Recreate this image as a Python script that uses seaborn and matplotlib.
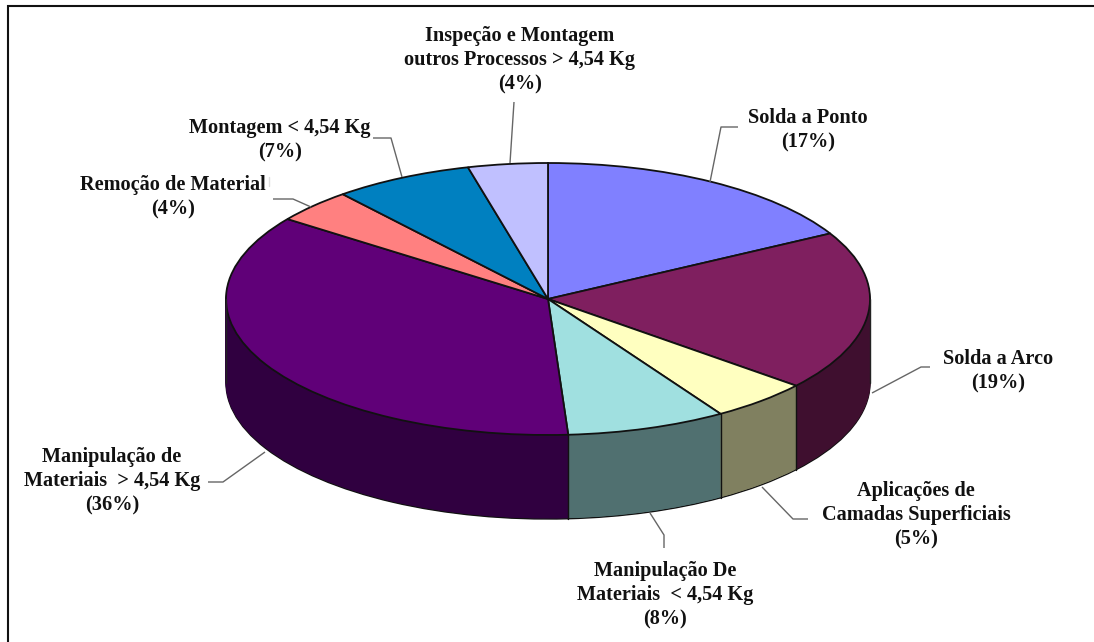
import numpy as np
import matplotlib
matplotlib.use("Agg")
import matplotlib.pyplot as plt
import seaborn as sns

categories = ["Solda a Ponto", "Solda a Arco", "Aplicações de\nCamadas Superficiais",
              "Manipulação De\nMateriais  < 4,54 Kg", "Manipulação de\nMateriais  > 4,54 Kg",
              "Remoção de Material", "Montagem < 4,54 Kg",
              "Inspeção e Montagem\noutros Processos > 4,54 Kg"]
values = [17, 19, 5, 8, 36, 4, 7, 4]
top_colors = ["#8080FF", "#7F1F5F", "#FFFFC0", "#A0E0E0", "#600078", "#FF8080", "#0080C0", "#C0C0FF"]
side_colors = ["#404080", "#3F0F2F", "#808060", "#507070", "#300040", "#804040", "#004060", "#606080"]

W, H = 1094, 642
CX, CY, RX, RY, DEPTH = 548, 299, 322, 136, 84

sns.set_theme(style="white")
plt.rcParams["font.family"] = ["Liberation Serif", "DejaVu Serif"]

fig = plt.figure(figsize=(W / 100, H / 100), dpi=100, facecolor="white")
ax = fig.add_axes([0, 0, 1, 1])


def pie(colors, drop, edge, lw):
    ax.pie(values, colors=colors, startangle=90, counterclock=False, radius=1,
           center=(0, -drop / RY), wedgeprops=dict(edgecolor=edge if edge else "none", linewidth=lw))


top = sns.color_palette(top_colors)
side = sns.color_palette(side_colors)

pie(side, DEPTH, "#111111", 1.0)
for d in np.arange(DEPTH - 1, 0, -1.0):
    ax.pie(values, colors=side, startangle=90, counterclock=False, radius=1,
           center=(0, -d / RY), wedgeprops=dict(linewidth=0.6, edgecolor=None),
           )
    for w in ax.patches[-len(values):]:
        w.set_edgecolor(w.get_facecolor())
pie(top, 0, "#111111", 1.3)

ax.set_xlim(-CX / RX, (W - CX) / RX)
ax.set_ylim(-(H - CY) / RY, CY / RY)
ax.set_aspect("auto")

# vertical seams on the visible front, from the data's cumulative shares
bounds = 2 * np.pi * np.cumsum(values) / np.sum(values)
for a in bounds:
    x, y = np.sin(a), np.cos(a)
    if y < 0:
        ax.plot([x, x], [y, y - DEPTH / RY], color="#111111", lw=1.0, zorder=5)
for x in (-1, 1):
    ax.plot([x, x], [0, -DEPTH / RY], color="#222222", lw=1.0, zorder=5)

ov = fig.add_axes([0, 0, 1, 1], facecolor="none")
ov.set_xlim(0, W)
ov.set_ylim(H, 0)
ov.axis("off")

labels = [
    ("Solda a Ponto\n(17%)", 808, 130),
    ("Solda a Arco\n(19%)", 998, 371),
    ("Aplicações de\nCamadas Superficiais\n(5%)", 916, 515),
    ("Manipulação De\nMateriais  < 4,54 Kg\n(8%)", 665, 595),
    ("Manipulação de\nMateriais  > 4,54 Kg\n(36%)", 112, 481),
    ("Remoção de Material\n(4%)", 173, 197),
    ("Montagem < 4,54 Kg\n(7%)", 280, 140),
    ("Inspeção e Montagem\noutros Processos > 4,54 Kg\n(4%)", 520, 60),
]
for txt, x, y in labels:
    ov.text(x, y, txt, ha="center", va="center", fontsize=14.6, fontweight="bold",
            color="#111111", linespacing=1.29)

leaders = [
    ([738, 721, 710], [127, 127, 182]),
    ([930, 921, 872], [367, 367, 393]),
    ([808, 793, 762], [519, 519, 487]),
    ([664, 664, 650], [548, 535, 513]),
    ([208, 223, 265], [482, 482, 452]),
    ([273, 293, 311], [199, 199, 207]),
    ([373, 391, 402], [138, 138, 177]),
    ([514, 510], [102, 163]),
]
for xs, ys in leaders:
    ov.plot(xs, ys, color="#666666", lw=1.0, solid_capstyle="butt")
ov.plot([269, 269], [177, 186], color="#dddddd", lw=1.0)

# frame
ov.plot([8, 8, W], [H, 6, 6], color="#111111", lw=1.5, solid_joinstyle="miter")

fig.savefig("out.png", dpi=100)
